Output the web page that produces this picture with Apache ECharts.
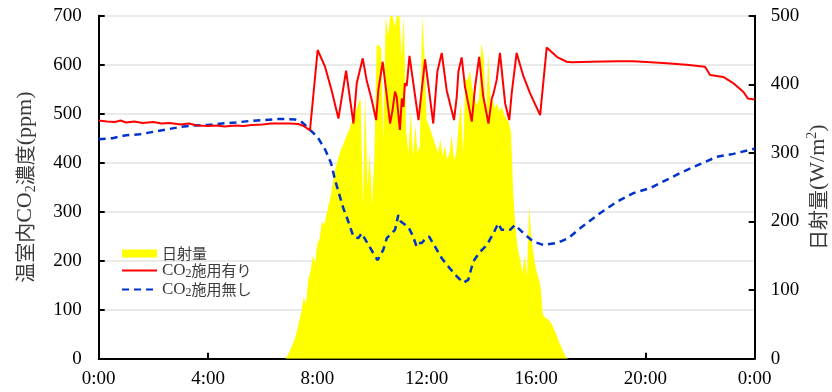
<!DOCTYPE html>
<html><head><meta charset="utf-8">
<script src="https://cdn.jsdelivr.net/npm/echarts@6/dist/echarts.min.js"></script>
<style>html,body{margin:0;padding:0;background:#fff}#c{width:832px;height:392px}</style>
</head><body><div id="c"></div>
<script>
// ---- data ----
const xTickHours = [0, 4, 8, 12, 16, 20, 24];
const seriesNames = ['日射量', 'CO2施用有り', 'CO2施用無し'];

// solar radiation (W/m2), every 5 minutes from 6:45
const solarStartHour = 6.75;
const solarStepMinutes = 5;
const solarValues = [
  0, 0, 5, 12, 20, 28, 40, 55, 68, 90, 80, 115,
  128, 150, 140, 168, 175, 200, 195, 210, 225, 240, 262, 278,
  290, 302, 310, 318, 326, 334, 345, 355, 362, 372, 380, 222,
  385, 250, 300, 225, 290, 455, 458, 452, 320, 498, 470, 500,
  500, 485, 500, 500, 440, 500, 330, 300, 360, 295, 340, 300,
  310, 500, 440, 348, 340, 330, 320, 310, 300, 320, 295, 310,
  290, 300, 325, 290, 300, 340, 372, 300, 410, 405, 420, 395,
  380, 370, 380, 460, 440, 345, 445, 370, 378, 365, 372, 360,
  368, 355, 350, 345, 330, 240, 190, 160, 145, 125, 150, 120,
  222, 175, 150, 130, 120, 105, 64, 60, 58, 55, 50, 42,
  35, 25, 18, 10, 3, 0
];

// CO2 with enrichment (ppm)
const co2WithTimes = [
  0.0, 0.3, 0.6, 0.8, 1.0, 1.3, 1.6, 2.0, 2.3, 2.6, 3.0, 3.3, 3.6, 4.0, 4.3, 4.6, 5.0, 5.3, 5.6, 6.0,
  6.3, 6.6, 7.0, 7.3, 7.5, 7.73, 8.01, 8.28, 8.52, 8.77, 8.83, 9.05, 9.32, 9.44, 9.66, 9.8,
  9.99, 10.15, 10.23, 10.39, 10.66, 10.75, 10.84, 10.9, 11.02, 11.09, 11.15, 11.2, 11.27, 11.37,
  11.7, 11.94, 12.24, 12.39, 12.45, 12.55, 12.73, 13.0, 13.1, 13.16, 13.28, 13.4, 13.65, 13.77,
  13.92, 14.07, 14.26, 14.38, 14.44, 14.56, 14.68, 14.87, 15.02, 15.11, 15.29, 15.54, 15.78, 16.15,
  16.39, 16.76, 17.12, 17.3, 18.0, 19.0, 19.55, 20.2, 20.78, 21.5, 22.18, 22.37, 22.85, 23.2,
  23.58, 23.75, 24.0
];
const co2WithValues = [
  486, 484, 483, 486, 482, 484, 481, 483, 480, 481, 478, 480, 476, 475, 476, 474, 476, 475, 477, 478,
  480, 480, 480, 479, 475, 466, 630, 596, 548, 490, 493, 588, 480, 562, 613, 569,
  528, 487, 548, 606, 480, 507, 545, 535, 467, 531, 514, 562, 557, 618,
  487, 611, 480, 586, 590, 624, 548, 487, 535, 586, 615, 555, 484, 555,
  616, 535, 480, 531, 540, 569, 624, 521, 487, 542, 624, 576, 542, 497,
  635, 616, 606, 605, 606, 607, 607, 605, 603, 600, 596, 579, 575, 563,
  545, 531, 529
];

// CO2 without enrichment (ppm)
const co2WithoutTimes = [
  0.0, 0.5, 1.0, 1.5, 2.0, 2.5, 3.0, 3.5, 4.0, 4.5, 5.0, 5.5, 6.0, 6.5, 6.9, 7.2, 7.45, 7.75,
  8.0, 8.3, 8.5, 8.65, 8.95, 9.1, 9.32, 9.5, 9.62, 9.87, 10.2, 10.41, 10.54, 10.7, 10.84, 10.96,
  11.05, 11.15, 11.33, 11.5, 11.63, 11.7, 11.82, 12.0, 12.09, 12.3, 12.55, 12.85, 13.1, 13.34,
  13.52, 13.7, 13.95, 14.2, 14.44, 14.62, 14.74, 15.05, 15.23, 15.54, 15.9, 16.27, 16.76, 17.18,
  17.61, 18.34, 18.95, 19.56, 20.17, 20.78, 21.39, 22.0, 22.61, 23.22, 23.95, 24.0
];
const co2WithoutValues = [
  448, 450, 456, 458, 463, 468, 473, 476, 477, 480, 482, 485, 487, 489, 489, 488, 482, 466,
  453, 425, 399, 364, 307, 285, 249, 246, 256, 232, 201, 222, 246, 255, 263, 293,
  280, 276, 269, 250, 229, 236, 236, 248, 249, 229, 205, 184, 168, 155,
  161, 198, 218, 232, 256, 276, 263, 263, 273, 256, 239, 232, 236, 246,
  266, 297, 320, 338, 348, 365, 382, 397, 412, 418, 428, 429
];

// ---- build ----
const solarData = solarValues.map((v, i) => [solarStartHour + i * solarStepMinutes / 60, v]);
const co2WithData = co2WithTimes.map((t, i) => [t, co2WithValues[i]]);
const co2WithoutData = co2WithoutTimes.map((t, i) => [t, co2WithoutValues[i]]);

const SERIF = '"Liberation Serif","Times New Roman",serif';
const CJK = '"Noto Sans CJK JP","Noto Sans",sans-serif';
const nameColor = '#3a3a3a';

const axisRich = {
  j: { fontFamily: CJK, fontSize: 20, color: nameColor, lineHeight: 26, verticalAlign: 'middle' },
  l: { fontFamily: SERIF, fontSize: 22, color: nameColor, lineHeight: 26, verticalAlign: 'middle' },
  s: { fontFamily: SERIF, fontSize: 14, color: nameColor, lineHeight: 26, verticalAlign: 'bottom' },
  sup: { fontFamily: SERIF, fontSize: 14, color: nameColor, lineHeight: 26, verticalAlign: 'top' }
};
const legendRich = {
  j: { fontFamily: CJK, fontSize: 15, color: nameColor, lineHeight: 19, verticalAlign: 'middle' },
  l: { fontFamily: SERIF, fontSize: 17, color: nameColor, lineHeight: 19, verticalAlign: 'middle' },
  s: { fontFamily: SERIF, fontSize: 12, color: nameColor, lineHeight: 19, verticalAlign: 'bottom' }
};

const chart = echarts.init(document.getElementById('c'), null, { renderer: 'canvas' });
chart.setOption({
  animation: false,
  backgroundColor: '#fff',
  grid: { left: 98.7, right: 77.3, top: 15.7, bottom: 33.3, outerBoundsMode: 'none', containLabel: false },
  legend: {
    orient: 'vertical',
    left: 116, top: 241,
    itemWidth: 35, itemHeight: 8, itemGap: 1,
    textStyle: { rich: legendRich },
    formatter: function (n) {
      if (n.indexOf('CO2') === 0) return '{l|CO}{s|2}{j|' + n.slice(3) + '}';
      return '{j|' + n + '}';
    },
    data: [
      { name: seriesNames[0], icon: 'rect', itemStyle: { color: '#ffff00' } },
      { name: seriesNames[1], icon: 'inherit', itemStyle: { opacity: 0 } },
      { name: seriesNames[2], icon: 'inherit', itemStyle: { opacity: 0 } }
    ]
  },
  xAxis: {
    type: 'value', min: xTickHours[0], max: xTickHours[xTickHours.length - 1], interval: 4,
    axisLine: { lineStyle: { color: '#000', width: 2 } },
    axisTick: { inside: true, length: 6, lineStyle: { color: '#000', width: 2 } },
    axisLabel: {
      margin: 11, color: '#000', fontFamily: SERIF, fontSize: 19,
      formatter: v => (v % 24) + ':00'
    },
    splitLine: { show: false }
  },
  yAxis: [
    {
      type: 'value', min: 0, max: 700, interval: 100, position: 'left',
      name: '{j|温室内}{l|CO}{s|2}{j|濃度}{l|(ppm)}',
      nameLocation: 'middle', nameRotate: 90, nameGap: 60, nameMoveOverlap: false,
      nameTextStyle: { rich: axisRich },
      axisLine: { show: true, lineStyle: { color: '#000', width: 2 } },
      axisTick: { show: true, inside: true, length: 6, lineStyle: { color: '#000', width: 2 } },
      axisLabel: { margin: 17, color: '#000', fontFamily: SERIF, fontSize: 19 },
      splitLine: { show: true, lineStyle: { color: '#e3e3e3', width: 1.5 } }
    },
    {
      type: 'value', min: 0, max: 500, interval: 100, position: 'right',
      name: '{j|日射量}{l|(W/m}{sup|2}{l|)}',
      nameLocation: 'middle', nameRotate: 90, nameGap: 51, nameMoveOverlap: false,
      nameTextStyle: { rich: axisRich },
      axisLine: { show: true, lineStyle: { color: '#000', width: 2 } },
      axisTick: { show: true, inside: true, length: 6, lineStyle: { color: '#000', width: 2 } },
      axisLabel: { margin: 16, color: '#000', fontFamily: SERIF, fontSize: 19 },
      splitLine: { show: false }
    }
  ],
  series: [
    {
      name: seriesNames[0], type: 'line', yAxisIndex: 1, data: solarData,
      symbol: 'none', lineStyle: { width: 0, color: '#ffff00' }, itemStyle: { color: '#ffff00' },
      areaStyle: { color: '#ffff00', opacity: 1 }, z: 1
    },
    {
      name: seriesNames[1], type: 'line', yAxisIndex: 0, data: co2WithData,
      symbol: 'none', lineStyle: { width: 2, color: '#ff0000' }, itemStyle: { color: '#ff0000' }, z: 3
    },
    {
      name: seriesNames[2], type: 'line', yAxisIndex: 0, data: co2WithoutData,
      symbol: 'none', lineStyle: { width: 2.5, color: '#0033cc', type: [7, 5] }, itemStyle: { color: '#0033cc' }, z: 2
    }
  ]
});
</script></body></html>
